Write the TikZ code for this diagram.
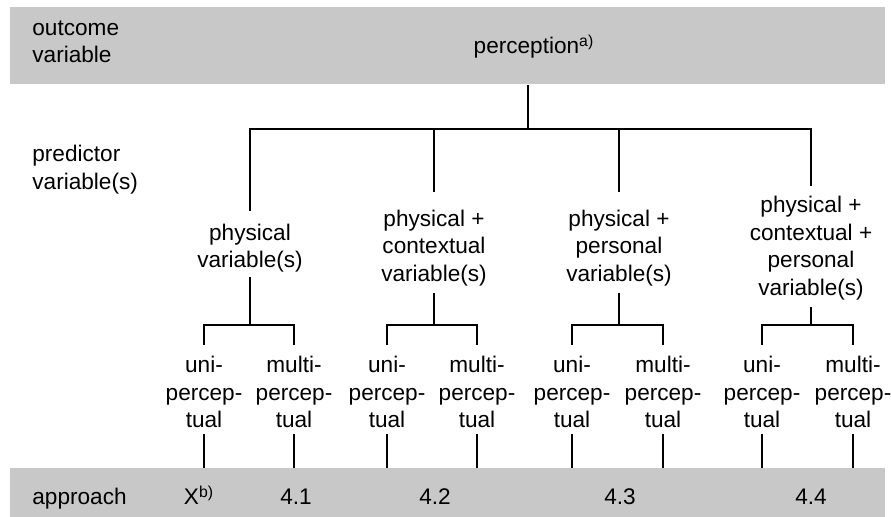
\documentclass[tikz,border=0pt]{standalone}
\usepackage{fontspec}
\setmainfont{Liberation Sans}
\definecolor{bandgray}{RGB}{200,200,200}
\begin{document}
\begin{tikzpicture}[x=0.5pt,y=-0.5pt]
\tikzstyle{band}=[fill=bandgray, draw=none, inner sep=0, anchor=north west]
\tikzstyle{txt}=[align=center, inner sep=0, font=\fontsize{11.3}{13.75}\selectfont]
\tikzstyle{lbl}=[anchor=base, inner sep=0, font=\fontsize{11.3}{13.75}\selectfont]
\tikzstyle{link}=[line width=1pt, black]
\useasboundingbox (0,0) rectangle (891,517);
\node[band, minimum width=437.5pt, minimum height=38.5pt] (outband) at (10,7){};
\node[band, minimum width=437.5pt, minimum height=24.5pt] (apband) at (10,468){};
\node[lbl, anchor=base west] (outlbl) at (32,36){outcome};
\node[lbl, anchor=base west] (outlblb) at (32,63){variable};
\node[lbl] (perc) at (534,54){perception\textsuperscript{a)}};
\node[lbl, anchor=base west] (predlbl) at (32,162){predictor};
\node[lbl, anchor=base west] (predlblb) at (32,190){variable(s)};
\node[lbl, anchor=base west] (aplbl) at (32,505){approach};
\coordinate (hub) at (528,129);
% predictor groups
\node[txt] (g1) at (250,248){physical\\variable(s)};
\node[txt] (g2) at (434,248){physical +\\contextual\\variable(s)};
\node[txt] (g3) at (619,248){physical +\\personal\\variable(s)};
\node[txt] (g4) at (811,248){physical +\\contextual +\\personal\\variable(s)};
\draw[link] (hub |- outband.south)--(hub);
\draw[link, shorten >=6pt] (hub) -| (g1.north);
\draw[link, shorten >=9pt] (hub) -| (g2.north);
\draw[link, shorten >=9pt] (hub) -| (g3.north);
\draw[link, shorten >=5pt] (hub) -| (g4.north);
\coordinate (j1) at (250,325);
\coordinate (j2) at (434,325);
\coordinate (j3) at (619,325);
\coordinate (j4) at (811,325);
\draw[link, shorten <=2pt] (g1.south)--(j1);
\draw[link, shorten <=3.5pt] (g2.south)--(j2);
\draw[link, shorten <=3.5pt] (g3.south)--(j3);
\draw[link, shorten <=3.5pt] (g4.south)--(j4);
% uni / multi
\node[txt] (l1u) at (204,392){uni-\\percep-\\tual};
\node[txt] (l1m) at (294,392){multi-\\percep-\\tual};
\node[txt] (l2u) at (387,392){uni-\\percep-\\tual};
\node[txt] (l2m) at (477,392){multi-\\percep-\\tual};
\node[txt] (l3u) at (572,392){uni-\\percep-\\tual};
\node[txt] (l3m) at (663,392){multi-\\percep-\\tual};
\node[txt] (l4u) at (762,392){uni-\\percep-\\tual};
\node[txt] (l4m) at (853,392){multi-\\percep-\\tual};
\foreach \g/\u/\m in {j1/l1u/l1m, j2/l2u/l2m, j3/l3u/l3m, j4/l4u/l4m}{
  \draw[link, shorten >=5.5pt] (\g) -| (\u.north);
  \draw[link, shorten >=5.5pt] (\g) -| (\m.north);
  \draw[link, shorten <=3pt] (\u.south)--(\u.south |- apband.north);
  \draw[link, shorten <=3pt] (\m.south)--(\m.south |- apband.north);
}
% approaches
\node[lbl] (apx) at (199,505){X\textsuperscript{b)}};
\node[lbl] (ap1) at (296,505){4.1};
\node[lbl] (ap2) at (435,505){4.2};
\node[lbl] (ap3) at (620,505){4.3};
\node[lbl] (ap4) at (811,505){4.4};
\end{tikzpicture}
\end{document}
